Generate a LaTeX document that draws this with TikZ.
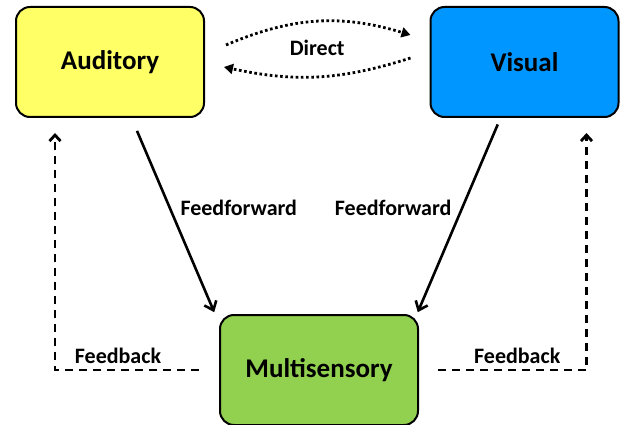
\documentclass[tikz,border=0pt]{standalone}
\usepackage{fontspec}
\setmainfont{Carlito}
\usepackage{xcolor}
\usepackage{tikz}
\usetikzlibrary{arrows.meta, calc}
\definecolor{audfill}{RGB}{255,255,102}
\definecolor{visfill}{RGB}{0,150,255}
\definecolor{multifill}{RGB}{146,208,80}

\begin{document}
\begin{tikzpicture}[
  x=1pt, y=1pt,
  box/.style={draw, line width=2pt, rounded corners=14pt, align=center, minimum width=188pt, minimum height=110pt, font=\fontsize{27}{30}\selectfont\bfseries},
  lbl/.style={font=\fontsize{22}{25}\selectfont\bfseries},
  ffarrow/.style={-{Straight Barb[length=8pt,width=13pt]}, line width=2.6pt},
  fbarrow/.style={-{Straight Barb[length=6pt,width=11pt]}, line width=2.8pt, dash pattern=on 8pt off 6pt},
  directarrow/.style={-{Triangle[length=9pt,width=10pt]}, line width=2.8pt, dash pattern=on 2.6pt off 2.6pt}
]
\useasboundingbox (0,0) rectangle (627,424);
\node[box, fill=audfill] (aud) at (110,362) {Auditory};
\node[box, fill=visfill] (vis) at (524.5,362) {Visual};
\node[box, fill=multifill, minimum width=198pt] (multi) at (319,54) {Multisensory};

\draw[directarrow] ([xshift=21pt, yshift=17pt]aud.east) to[bend left=20] node[lbl, pos=0.5, yshift=-26pt] (direct) {Direct} ([xshift=-19pt, yshift=27pt]vis.west);
\draw[directarrow] ([xshift=-19pt, yshift=4pt]vis.west) to[bend left=15] ([xshift=19pt, yshift=-5pt]aud.east);

\draw[ffarrow, shorten <=14pt, shorten >=2pt] ([xshift=21.5pt]aud.south) -- node[lbl, right, pos=0.46, xshift=6pt] {Feedforward} ([xshift=-4pt]multi.north west);
\draw[ffarrow, shorten <=7pt, shorten >=2pt] ([xshift=-24pt]vis.south) -- node[lbl, left, pos=0.46, xshift=-6pt] {Feedforward} ([xshift=-2pt]multi.north east);

\draw[fbarrow] ([xshift=-20pt]multi.west) -| node[lbl, above, pos=0.25, xshift=-9pt, yshift=2pt] {Feedback} ([xshift=40pt, yshift=-15pt]aud.south west);
\draw[fbarrow] ([xshift=19pt]multi.east) -| node[lbl, above, pos=0.25, xshift=5pt, yshift=2pt] {Feedback} ([xshift=-33pt, yshift=-15pt]vis.south east);
\end{tikzpicture}
\end{document}
